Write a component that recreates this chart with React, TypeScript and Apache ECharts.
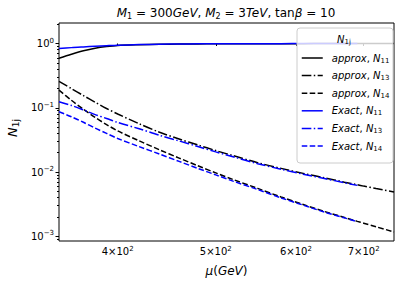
import React, { useEffect, useRef } from 'react';
import * as echarts from 'echarts';

const FONT = 'DejaVu Sans';

// mu (GeV) grid and values
const muApprox = [350, 360, 370, 380, 390, 400, 420, 440, 460, 480, 500, 520, 550, 580, 610, 640, 670, 690, 700, 720, 750];
const approxN11 = [0.589, 0.679, 0.77, 0.845, 0.898, 0.934, 0.958, 0.972, 0.98, 0.985, 0.989, 0.991, 0.993, 0.995, 0.996, 0.997, 0.997, 0.998, 0.998, 0.998, 0.998];
const approxN13 = [0.2582, 0.199, 0.1549, 0.1219, 0.0975, 0.0801, 0.0564, 0.0416, 0.0327, 0.0264, 0.0216, 0.01806, 0.014, 0.01142, 0.00955, 0.00815, 0.00697, 0.00634, 0.00605, 0.00554, 0.00491];
const approxN14 = [0.1879, 0.1309, 0.0948, 0.0707, 0.0548, 0.0437, 0.0306, 0.0222, 0.01651, 0.01254, 0.00972, 0.00767, 0.00558, 0.0041, 0.00313, 0.00244, 0.00197, 0.00171, 0.0016, 0.00141, 0.00117];

const muExact = [350, 360, 370, 380, 390, 400, 420, 440, 460, 480, 500, 520, 550, 580, 610, 640, 670, 690];
const exactN11 = [0.833, 0.863, 0.885, 0.905, 0.924, 0.941, 0.961, 0.975, 0.982, 0.988, 0.991, 0.993, 0.995, 0.996, 0.997, 0.998, 0.998, 0.998];
const exactN13 = [0.1245, 0.1089, 0.0927, 0.0784, 0.0682, 0.0591, 0.0471, 0.0373, 0.0305, 0.025, 0.0206, 0.0173, 0.01352, 0.01106, 0.00927, 0.00795, 0.00682, 0.00621];
const exactN14 = [0.0869, 0.0725, 0.0595, 0.0483, 0.04, 0.0333, 0.0249, 0.01905, 0.01466, 0.01142, 0.00904, 0.00724, 0.00535, 0.00397, 0.00306, 0.00239, 0.00194, 0.00169];

const xTickMu = [400, 500, 600, 700];
const xTickMantissa = ['4', '5', '6', '7'];
const xTickExponent = '2';
const yTickDecades = [-3, -2, -1, 0];
const yTickExponents = ['−3', '−2', '−1', '0'];
const yMinorMultipliers = [2, 3, 4, 5, 6, 7, 8, 9];

const X_MIN = 350;
const X_MAX = 750;
const Y_MIN = 8.47e-4;
const Y_MAX = 2.085;

const seriesNames = ['approx, N11', 'approx, N13', 'approx, N14', 'Exact, N11', 'Exact, N13', 'Exact, N14'];
const seriesColors = ['#000000', '#000000', '#000000', '#0000ff', '#0000ff', '#0000ff'];

const DASHED = [5.55, 2.4];
const DASHDOT = [9.6, 2.4, 1.5, 2.4];
const seriesDash: any[] = ['solid', DASHDOT, DASHED, 'solid', DASHDOT, DASHED];

const lg = (v: number) => Math.log10(v);

export default function App() {
  const ref = useRef<HTMLDivElement>(null);
  useEffect(() => {
    document.body.style.margin = '0';
    if (!ref.current) return;
    const chart = echarts.init(ref.current, undefined, { renderer: 'svg' });

    const xMin = lg(X_MIN);
    const xMax = lg(X_MAX);
    const yMin = lg(Y_MIN);
    const yMax = lg(Y_MAX);

    const xTicks = xTickMu.map(lg);
    const yMajor = yTickDecades.slice();
    const yMinor: number[] = [];
    for (let n = -4; n <= 0; n++) {
      yMinorMultipliers.forEach((k) => {
        const v = n + lg(k);
        if (v >= yMin && v <= yMax) yMinor.push(v);
      });
    }

    const mk = (mus: number[], vals: number[]) => mus.map((m, i) => [lg(m), lg(vals[i])]);

    const richBase = (size: number, lh: number) => ({
      i: { fontFamily: FONT, fontStyle: 'italic', fontSize: size, lineHeight: lh, color: '#000' },
      r: { fontFamily: FONT, fontSize: size, lineHeight: lh, color: '#000' },
      s: { fontFamily: FONT, fontSize: Math.round(size * 0.7), lineHeight: Math.round(lh * 0.45), verticalAlign: 'bottom', color: '#000' },
      p: { fontFamily: FONT, fontSize: Math.round(size * 0.7), lineHeight: Math.round(lh * 0.4), verticalAlign: 'top', color: '#000' },
    });

    const mkSeries = (idx: number, data: number[][]) => ({
      name: seriesNames[idx],
      type: 'line',
      data,
      symbol: 'none',
      smooth: 0.3,
      lineStyle: { color: seriesColors[idx], width: 1.5, type: seriesDash[idx] },
      itemStyle: { color: seriesColors[idx], opacity: 0 },
      z: 2,
    });

    const option: any = {
      animation: false,
      grid: {
        left: 59, right: 6, top: 23, bottom: 45,
        show: true, borderColor: '#000', borderWidth: 1, backgroundColor: 'transparent',
        containLabel: false, outerBoundsMode: 'none',
      },
      xAxis: {
        type: 'value', min: xMin, max: xMax,
        splitLine: { show: false },
        axisLine: { show: false },
        axisTick: { show: true, customValues: xTicks, length: 2.5, lineStyle: { color: '#000', width: 1 } },
        axisLabel: {
          customValues: xTicks, margin: 4, color: '#000', fontSize: 10, fontFamily: FONT,
          rich: richBase(10, 13),
          formatter: (v: number) => {
            const idx = xTicks.findIndex((t) => Math.abs(t - v) < 1e-6);
            return idx >= 0 ? `{r|${xTickMantissa[idx]}×10}{p|${xTickExponent}}` : '';
          },
        },
        name: '{i|μ}{r|(}{i|GeV}{r|)}',
        nameLocation: 'middle', nameGap: 23,
        nameTextStyle: { fontFamily: FONT, fontSize: 12, color: '#000', rich: richBase(12, 14) },
      },
      yAxis: [
        {
          type: 'value', min: yMin, max: yMax,
          splitLine: { show: false },
          axisLine: { show: false },
          axisTick: { show: true, customValues: yMajor, length: 3.5, lineStyle: { color: '#000', width: 1 } },
          axisLabel: {
            customValues: yMajor, margin: 5, color: '#000', fontSize: 10, fontFamily: FONT,
            rich: richBase(10, 13),
            formatter: (v: number) => {
              const idx = yTickDecades.findIndex((t) => Math.abs(t - v) < 1e-6);
              return idx >= 0 ? `{r|10}{p|${yTickExponents[idx]}}` : '';
            },
          },
          name: '{i|N}{s|1j}',
          nameLocation: 'middle', nameGap: 39, nameRotate: 90,
          nameTextStyle: { fontFamily: FONT, fontSize: 13, color: '#000', rich: richBase(13, 15), padding: [0, 0, 0, 8] },
        },
        {
          type: 'value', min: yMin, max: yMax, position: 'left',
          splitLine: { show: false },
          axisLine: { show: false },
          axisLabel: { show: false },
          axisTick: { show: true, customValues: yMinor, length: 2, lineStyle: { color: '#000', width: 1 } },
        },
      ],
      legend: {
        show: true,
        orient: 'vertical',
        left: 297, top: 28,
        padding: [25, 5, 5, 4],
        itemWidth: 21, itemHeight: 12, itemGap: 6.6,
        selectedMode: false,
        z: 5,
        itemStyle: { opacity: 0 },
        data: seriesNames.map((n, i) => ({
          name: n,
          itemStyle: { opacity: 0 },
          lineStyle: { color: seriesColors[i], width: 1.5, type: seriesDash[i] },
        })),
        formatter: (name: string) => {
          const [a, b] = name.split(', ');
          return `{i|${a}}{r|, }{i|N}{s|${b.slice(1)}}`;
        },
        textStyle: {
          fontFamily: FONT, fontSize: 10, color: '#000', padding: [0, 0, 0, 4],
          rich: richBase(10, 12),
        },
      },
      graphic: [
        {
          type: 'rect', z: 3,
          shape: { x: 297, y: 28, width: 96, height: 135, r: 3 },
          style: { fill: 'rgba(255,255,255,0.8)', stroke: '#cccccc', lineWidth: 1 },
        },
        {
          type: 'text', z: 10, x: 344, y: 39,
          style: {
            text: '{i|N}{s|1j}', align: 'center', verticalAlign: 'middle',
            fontFamily: FONT, fontSize: 10, fill: '#000', rich: richBase(10, 12),
          },
        },
        {
          type: 'text', z: 10, x: 226, y: 13,
          style: {
            text: '{i|M}{s|1}{r| = 300}{i|GeV}{r|, }{i|M}{s|2}{r| = 3}{i|TeV}{r|, tan}{i|β}{r| = 10}',
            align: 'center', verticalAlign: 'middle',
            fontFamily: FONT, fontSize: 12, fill: '#000', rich: richBase(12, 14),
          },
        },
      ],
      series: [
        mkSeries(0, mk(muApprox, approxN11)),
        mkSeries(1, mk(muApprox, approxN13)),
        mkSeries(2, mk(muApprox, approxN14)),
        mkSeries(3, mk(muExact, exactN11)),
        mkSeries(4, mk(muExact, exactN13)),
        mkSeries(5, mk(muExact, exactN14)),
      ],
    };
    chart.setOption(option);
    return () => chart.dispose();
  }, []);
  return <div ref={ref} style={{ width: 400, height: 286 }} />;
}
